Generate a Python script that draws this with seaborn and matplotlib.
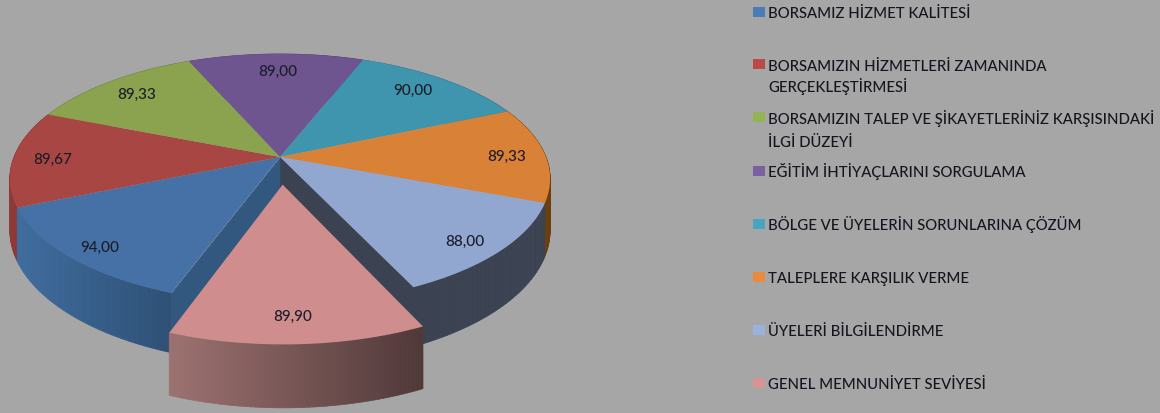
import numpy as np
import seaborn as sns
import matplotlib.pyplot as plt
from matplotlib.collections import PolyCollection
from matplotlib.patches import Rectangle
from matplotlib.transforms import Transform

# values as printed on the slices
categories = [
    'BORSAMIZ HİZMET KALİTESİ',
    'BORSAMIZIN HİZMETLERİ ZAMANINDA\nGERÇEKLEŞTİRMESİ',
    'BORSAMIZIN TALEP VE ŞİKAYETLERİNİZ KARŞISINDAKİ\nİLGİ DÜZEYİ',
    'EĞİTİM İHTİYAÇLARINI SORGULAMA',
    'BÖLGE VE ÜYELERİN SORUNLARINA ÇÖZÜM',
    'TALEPLERE KARŞILIK VERME',
    'ÜYELERİ BİLGİLENDİRME',
    'GENEL MEMNUNİYET SEVİYESİ',
]
values = [94.00, 89.67, 89.33, 89.00, 90.00, 89.33, 88.00, 89.90]

top_colors = ['#4571a6', '#a84643', '#8ba24f', '#6f5590', '#3f95ae', '#da8138', '#92a7cf', '#cf8e8d']
key_colors = ['#4a7cb8', '#b94a48', '#94b352', '#7c5fa0', '#47a5bf', '#e88b3f', '#9bb3dc', '#d69593']
# colour of the side wall at its left and right end
wall_left = ['#3f6c9e', '#8f3b38', '#75893f', '#5d4779', '#357e94', '#7a4a12', '#3b4252', '#9c7270']
wall_right = ['#2e5075', '#7d322f', '#66783a', '#523f6b', '#2e6f83', '#6b3f0d', '#3b4252', '#4f3838']
cut_colors = {0: '#33587f', 6: '#3b4252'}

# layout, in pixels of the picture
CX, CY = 280, 158
RX, RY = 266, 121
PERSP = 0.174
DEPTH = 50
key_y = [13, 65, 118, 172, 225, 278, 331, 384]
key_base = [18, 71, 124, 177, 230, 283, 336, 389]
key_gap = [0, 21, 23, 0, 0, 0, 0, 0]
label_x = [100, 53, 137, 278, 413, 507, 465, 293]
label_y = [248, 160, 95, 72, 91, 157, 242, 317]


def project(x, y, z=0.0):
    w = 1 + PERSP * np.asarray(y)
    return CX + RX * np.asarray(x) / w, CY - (RY * np.asarray(y) - DEPTH * z) / w


class Tilt(Transform):
    input_dims = 2
    output_dims = 2
    is_separable = False
    has_inverse = False

    def transform_non_affine(self, xy):
        xy = np.asarray(xy, dtype=float)
        return np.column_stack(project(xy[:, 0], xy[:, 1]))


sns.set_theme(style='white')
plt.rcParams['font.family'] = ['Lato', 'DejaVu Sans']

fig = plt.figure(figsize=(11.6, 4.14), dpi=100, facecolor='#a6a6a6')
ax = fig.add_axes([0, 0, 1, 1])

palette = sns.color_palette(top_colors)
explode = [0, 0, 0, 0, 0, 0, 0, 0.22]
total = sum(values)
wedges, texts, autotexts = ax.pie(
    values, colors=palette, explode=explode, startangle=250, counterclock=False,
    autopct=lambda p: f'{p * total / 100:.2f}'.replace('.', ','), pctdistance=0.7,
    wedgeprops={'linewidth': 0},
)
ax.set_aspect('auto')
ax.set_xlim(0, 1160)
ax.set_ylim(414, 0)
ax.set_facecolor('#a6a6a6')

tilt = Tilt() + ax.transData
for i, (wedge, label) in enumerate(zip(wedges, autotexts)):
    pink = i == len(wedges) - 1
    wedge.set_transform(tilt)
    wedge.set_zorder(3 if pink else 1)
    label.set_position((label_x[i], label_y[i]))
    label.set_fontsize(11)
    label.set_fontweight('medium')
    label.set_color('#1c1c28')
    label.set_zorder(5)

    cx, cy = wedge.center
    theta = np.radians(np.linspace(wedge.theta1, wedge.theta2, 60))
    ax_x, ax_y = cx + np.cos(theta), cy + np.sin(theta)
    top_x, top_y = project(ax_x, ax_y)
    low_x, low_y = project(ax_x, ax_y, 1.0)

    # radial walls left open by the pulled out slice
    if i in cut_colors:
        edge = 0 if i == 6 else -1
        a = project(np.array([cx, ax_x[edge]]), np.array([cy, ax_y[edge]]))
        b = project(np.array([cx, ax_x[edge]]), np.array([cy, ax_y[edge]]), 1.0)
        quad = [[(a[0][0], a[1][0]), (a[0][1], a[1][1]), (b[0][1], b[1][1]), (b[0][0], b[1][0])]]
        ax.add_collection(PolyCollection(quad, facecolors=cut_colors[i], edgecolors=cut_colors[i],
                                         linewidths=0.5, zorder=0.3))

    # outer wall, split up so the shade can run from left to right
    quads = [[(top_x[k], top_y[k]), (top_x[k + 1], top_y[k + 1]),
              (low_x[k + 1], low_y[k + 1]), (low_x[k], low_y[k])] for k in range(len(theta) - 1)]
    left = np.array(sns.color_palette([wall_left[i]])[0])
    right = np.array(sns.color_palette([wall_right[i]])[0])
    span = top_x.max() - top_x.min()
    t = (top_x[:-1] - top_x.min()) / span
    shades = [tuple(left + (right - left) * v) for v in t]
    mid = np.mean(np.sin(theta))
    ax.add_collection(PolyCollection(quads, facecolors=shades, edgecolors=shades, linewidths=0.5,
                                     zorder=2 if pink else 0.6 - 0.1 * mid))

# key on the right
for i, name in enumerate(categories):
    ax.add_patch(Rectangle((753, key_y[i] - 5), 12, 10, facecolor=key_colors[i], edgecolor='none'))
    for n, line in enumerate(name.split('\n')):
        ax.text(768, key_base[i] + n * key_gap[i], line, fontsize=10.7, fontweight='medium',
                color='#15151f', va='baseline', ha='left')

fig.savefig('out.png', dpi=100, facecolor=fig.get_facecolor())
